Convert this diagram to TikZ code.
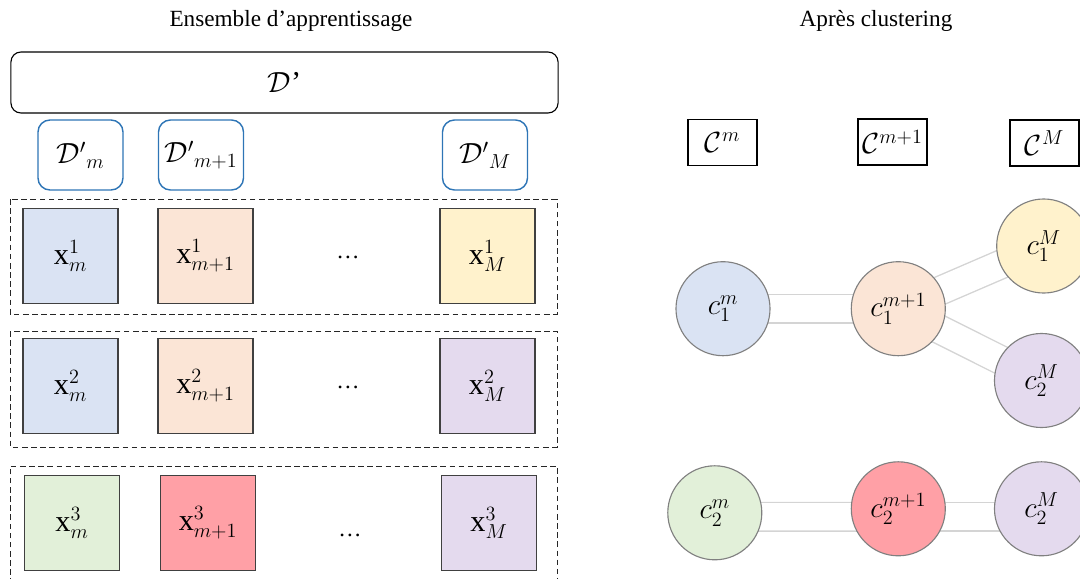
\documentclass[tikz,border=0pt]{standalone}
\usepackage{fontspec}
\setmainfont{Liberation Serif}
\usetikzlibrary{backgrounds}

\definecolor{bleuclair}{HTML}{DAE3F3}
\definecolor{peche}{HTML}{FBE5D6}
\definecolor{jaune}{HTML}{FFF2CC}
\definecolor{lavande}{HTML}{E4DAEE}
\definecolor{vertclair}{HTML}{E2F0D9}
\definecolor{rose}{HTML}{FFA0A6}
\definecolor{bordbleu}{HTML}{2E75B6}
\definecolor{bordcarre}{HTML}{404040}
\definecolor{bordcercle}{HTML}{808080}
\definecolor{grislien}{HTML}{D4D4D4}

\begin{document}
\begin{tikzpicture}[x=0.025cm, y=-0.025cm,
  titre/.style={font=\fontsize{16.5}{20}\selectfont},
  maths/.style={font=\fontsize{21.5}{26}\selectfont},
  bloc/.style={rectangle, draw=bordbleu, line width=1pt, rounded corners=0.3cm,
               minimum width=2.125cm, minimum height=1.75cm, maths},
  echant/.style={rectangle, draw=bordcarre, line width=1pt, minimum size=2.375cm, maths},
  groupe/.style={draw=black!85, dash pattern=on 4pt off 2.5pt, line width=0.6pt},
  clust/.style={rectangle, draw, line width=0.8pt, minimum width=1.725cm,
                minimum height=1.15cm, inner sep=0.5pt, maths},
  centre/.style={circle, draw=bordcercle, line width=0.8pt, minimum size=2.35cm,
                 inner sep=0pt, maths},
  lien/.style={draw=grislien, line width=1pt, double=white, double distance=0.68cm}
]
  \useasboundingbox (0,0) rectangle (1080,579);

  % Titres
  \node[titre] (tgauche) at (291,21) {Ensemble d’apprentissage};
  \node[titre] (tdroite) at (876,21) {Après clustering};

  % Ensemble D'
  \node[rectangle, draw, line width=0.8pt, rounded corners=0.25cm, minimum width=13.675cm,
        minimum height=1.525cm, maths] (dglob) at (284.5,82.5) {$\mathcal{D}$’};
  \node[bloc] (dm) at (80.5,155) {${\mathcal{D}'}_m$};
  \node[bloc] (dmp) at (201,155) {${\mathcal{D}'}_{m+1}$};
  \node[bloc] (dM) at (485,155) {${\mathcal{D}'}_M$};

  % Groupes d'echantillons
  \draw[groupe] (10,199) rectangle (557,314);
  \draw[groupe] (10,331) rectangle (557,447);
  \draw[groupe] (10,584) -- (10,466) -- (557,466) -- (557,584);

  % Ligne 1
  \node[echant, fill=bleuclair] (x1m) at (70.5,256) {$\mathrm{x}^1_m$};
  \node[echant, fill=peche] (x1mp) at (205.5,256) {$\mathrm{x}^1_{m+1}$};
  \node[titre] (p1) at (348,257) {\dots};
  \node[echant, fill=jaune] (x1M) at (487.5,256) {$\mathrm{x}^1_M$};

  % Ligne 2
  \node[echant, fill=bleuclair] (x2m) at (70.5,386) {$\mathrm{x}^2_m$};
  \node[echant, fill=peche] (x2mp) at (205.5,386) {$\mathrm{x}^2_{m+1}$};
  \node[titre] (p2) at (348,387) {\dots};
  \node[echant, fill=lavande] (x2M) at (487.5,386) {$\mathrm{x}^2_M$};

  % Ligne 3
  \node[echant, fill=vertclair] (x3m) at (72,523) {$\mathrm{x}^3_m$};
  \node[echant, fill=rose] (x3mp) at (208,523) {$\mathrm{x}^3_{m+1}$};
  \node[titre] (p3) at (350,535) {\dots};
  \node[echant, fill=lavande] (x3M) at (489,523) {$\mathrm{x}^3_M$};

  % Clusters
  \node[clust] (cm) at (722.5,142.5) {$\mathcal{C}^m$};
  \node[clust] (cmp) at (892.5,142) {$\mathcal{C}^{m+1}$};
  \node[clust] (cM) at (1044.5,143) {$\mathcal{C}^M$};

  \node[centre, fill=bleuclair] (c1m) at (723,308.7) {$c_1^m$};
  \node[centre, fill=peche] (c1mp) at (898.3,308.7) {$c_1^{m+1}$};
  \node[centre, fill=jaune] (c1M) at (1043.7,246) {$c_1^M$};
  \node[centre, fill=lavande] (c2M) at (1041.5,380.5) {$c_2^M$};
  \node[centre, fill=vertclair] (c2m) at (714.8,512.8) {$c_2^m$};
  \node[centre, fill=rose] (c2mp) at (898.3,508.8) {$c_2^{m+1}$};
  \node[centre, fill=lavande] (c2Mb) at (1041.5,508.8) {$c_2^M$};

  % Liens entre clusters
  \begin{scope}[on background layer]
    \draw[lien] (c1m.center) -- (c1mp.center);
    \draw[lien] (c1mp.center) -- (c1M.center);
    \draw[lien] (c1mp.center) -- (c2M.center);
    \draw[lien] ([yshift=-0.1cm]c2m.center) -- ([yshift=-0.2cm]c2mp.center);
    \draw[lien] ([yshift=-0.2cm]c2mp.center) -- ([yshift=-0.2cm]c2Mb.center);
  \end{scope}
\end{tikzpicture}
\end{document}
